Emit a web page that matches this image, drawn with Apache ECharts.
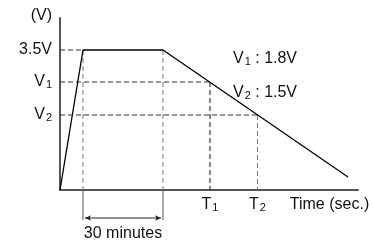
<!DOCTYPE html>
<html>
<head>
<meta charset="utf-8">
<script src="https://cdn.jsdelivr.net/npm/echarts@6/dist/echarts.min.js"></script>
<style>
  html, body { margin: 0; padding: 0; background: #fff; }
  #chart { width: 373px; height: 242px; }
</style>
</head>
<body>
<div id="chart"></div>
<script>
// charge / discharge profile (drawing is not to scale)
const curveTime = [0, 2.3, 10.3, 28.8];
const curveVolt = [0, 3.5, 3.5, 0.325];

// levels on the V axis: 3.5V, V1, V2 (plotted position)
const levelValues = [3.5, 2.7, 1.875];
const levelLabels = ['3.5V', '{v|V}{s|1}', '{v|V}{s|2}'];

// times where the falling line crosses V1 / V2
const crossTimes = [15, 19.75];
const timeTickValues = [15, 19.75, 26.95];
const timeTickLabels = ['{v|T}{s|1}', '{v|T}{s|2}', 'Time (sec.)'];

// 30 minute hold
const holdStart = 2.3;
const holdEnd = 10.3;
const dimLevel = -0.7;
const dimExtEnd = -0.75;
const dimTextLevel = -1.08;

// note text on the right
const noteLabels = ['{v|V}{s|1}{v| : 1.8V}', '{v|V}{s|2}{v| : 1.5V}'];
const noteTime = [17.3, 17.3];
const noteVolt = [3.275, 2.425];

const chart = echarts.init(document.getElementById('chart'));

const font = '"Liberation Sans", Arial, Helvetica, sans-serif';
const rich = {
  v: { fontSize: 16, fontFamily: font, color: '#111' },
  s: { fontSize: 11, fontFamily: font, color: '#111', padding: [5, 0, 0, 1] }
};
const dash = { color: '#333', width: 1, type: [5, 3] };
const dashGray = { color: '#777', width: 1, type: [5, 3] };

function seg(points, style) {
  return {
    type: 'line',
    data: points,
    symbol: 'none',
    silent: true,
    clip: false,
    lineStyle: style,
    z: 1
  };
}

// text placed at a data point
function note(t, v, text, pos) {
  return {
    type: 'scatter',
    silent: true,
    clip: false,
    symbolSize: 0,
    data: [[t, v]],
    itemStyle: { opacity: 1 },
    label: {
      show: true,
      position: pos,
      distance: 0,
      formatter: text,
      fontSize: 16,
      fontFamily: font,
      color: '#111',
      opacity: 1,
      rich: rich
    },
    z: 4
  };
}

const series = [
  // dashed guides
  seg([[0, levelValues[0]], [holdStart, levelValues[0]]], dash),
  seg([[holdStart, levelValues[0]], [holdStart, 0]], dashGray),
  seg([[holdEnd, levelValues[0]], [holdEnd, 0]], dashGray),
  seg([[0, levelValues[1]], [crossTimes[0], levelValues[1]]], dash),
  seg([[crossTimes[0], levelValues[1]], [crossTimes[0], 0]], Object.assign({}, dash, { color: '#111' })),
  seg([[0, levelValues[2]], [crossTimes[1], levelValues[2]]], dash),
  seg([[crossTimes[1], levelValues[2]], [crossTimes[1], 0]], dashGray),
  // dimension extension lines
  seg([[holdStart, 0], [holdStart, dimExtEnd]], { color: '#555', width: 1 }),
  seg([[holdEnd, 0], [holdEnd, dimExtEnd]], { color: '#555', width: 1 }),
  // dimension arrow
  {
    type: 'line',
    silent: true,
    clip: false,
    data: [
      { value: [holdStart + 0.2, dimLevel], symbolRotate: 90 },
      { value: [holdEnd - 0.2, dimLevel], symbolRotate: -90 }
    ],
    symbol: 'arrow',
    symbolSize: [4, 6],
    showSymbol: true,
    itemStyle: { color: '#222' },
    lineStyle: { color: '#222', width: 1 },
    z: 2
  },
  // main curve
  {
    type: 'line',
    data: curveTime.map((t, i) => [t, curveVolt[i]]),
    symbol: 'none',
    silent: true,
    clip: false,
    z: 3,
    lineStyle: { color: '#000', width: 1.3 }
  },
  note((holdStart + holdEnd) / 2, dimTextLevel, '30 minutes', 'inside')
].concat(noteLabels.map((txt, i) => note(noteTime[i], noteVolt[i], txt, 'right')));

chart.setOption({
  animation: false,
  grid: { left: 60, right: 15, top: 18, bottom: 52, outerBoundsMode: 'none', containLabel: false },
  xAxis: {
    type: 'value',
    min: 0,
    max: 29.8,
    splitLine: { show: false },
    axisTick: { show: false },
    axisLine: { show: true, onZero: false, lineStyle: { color: '#555', width: 2 } },
    axisLabel: {
      margin: 7,
      customValues: timeTickValues,
      formatter: function (v) {
        const i = timeTickValues.indexOf(v);
        return i >= 0 ? timeTickLabels[i] : '';
      },
      fontSize: 16,
      fontFamily: font,
      color: '#111',
      rich: rich
    }
  },
  yAxis: {
    type: 'value',
    min: 0,
    max: 4.3,
    name: '(V)',
    nameLocation: 'end',
    nameGap: 2,
    nameTextStyle: { fontSize: 16, fontFamily: font, color: '#111', align: 'right', verticalAlign: 'middle', padding: [0, 8, 0, 0] },
    splitLine: { show: false },
    axisTick: { show: false },
    axisLine: { show: true, onZero: false, lineStyle: { color: '#555', width: 2 } },
    axisLabel: {
      margin: 8,
      customValues: levelValues,
      formatter: function (v) {
        const i = levelValues.indexOf(v);
        return i >= 0 ? levelLabels[i] : '';
      },
      fontSize: 16,
      fontFamily: font,
      color: '#111',
      rich: rich
    }
  },
  series: series
});
</script>
</body>
</html>
